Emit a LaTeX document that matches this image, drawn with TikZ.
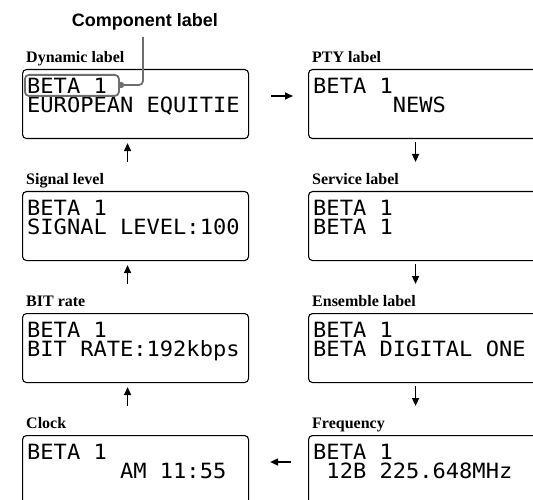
\documentclass[tikz,border=0pt]{standalone}
\usepackage{fontspec}
\setmainfont{Liberation Serif}
\newfontfamily\lcdfont[FakeStretch=1.05]{DejaVu Sans Mono}
\newfontfamily\calloutfont{Liberation Sans}
\usetikzlibrary{arrows.meta}

\definecolor{leadgray}{HTML}{6E6E6E}

\tikzset{
  display/.style={draw, line width=1.1pt, rounded corners=4pt, anchor=north west,
    minimum width=226pt, minimum height=69pt, inner sep=0pt},
  lcd/.style={anchor=base west, inner sep=0pt, text height=15pt, text depth=0pt,
    font=\lcdfont\fontsize{21}{21}\selectfont},
  mode/.style={anchor=base west, inner sep=0pt, font=\bfseries\fontsize{16}{18}\selectfont},
  flow/.style={-{Triangle[length=8pt,width=7pt]}, line width=1.6pt},
  leader/.style={leadgray, line width=1.8pt, rounded corners=4pt},
}

\begin{document}
\begin{tikzpicture}[x=1pt, y=1pt]

    \useasboundingbox (0,0) rectangle (533,-500);

    % Displays, left column
    \node[display] (dyn) at (22,-69) {};
    \node[display] (sig) at (22,-191) {};
    \node[display] (bit) at (22,-313) {};
    \node[display] (clk) at (22,-435) {};

    % Displays, right column (run off the page)
    \node[display, minimum width=234pt] (pty) at (308,-69) {};
    \node[display, minimum width=234pt] (srv) at (308,-191) {};
    \node[display, minimum width=234pt] (ens) at (308,-313) {};
    \node[display, minimum width=234pt] (frq) at (308,-435) {};

    % Mode names
    \node[mode] (dyn-lbl) at ([xshift=4,yshift=6.5]dyn.north west) {Dynamic label};
    \node[mode] (sig-lbl) at ([xshift=4,yshift=6.5]sig.north west) {Signal level};
    \node[mode] (bit-lbl) at ([xshift=4,yshift=6.5]bit.north west) {BIT rate};
    \node[mode] (clk-lbl) at ([xshift=4,yshift=6.5]clk.north west) {Clock};
    \node[mode] (pty-lbl) at ([xshift=4,yshift=6.5]pty.north west) {PTY label};
    \node[mode] (srv-lbl) at ([xshift=4,yshift=6.5]srv.north west) {Service label};
    \node[mode] (ens-lbl) at ([xshift=4,yshift=6.5]ens.north west) {Ensemble label};
    \node[mode] (frq-lbl) at ([xshift=4,yshift=6.5]frq.north west) {Frequency};

    % Display text
    \node[lcd] (dyn-a) at ([xshift=5,yshift=-24.5]dyn.north west) {BETA 1};
    \node[lcd] (dyn-b) at ([xshift=5,yshift=-43.5]dyn.north west) {EUROPEAN EQUITIE};
    \node[lcd] (sig-a) at ([xshift=5,yshift=-24.5]sig.north west) {BETA 1};
    \node[lcd] (sig-b) at ([xshift=5,yshift=-43.5]sig.north west) {SIGNAL LEVEL:100};
    \node[lcd] (bit-a) at ([xshift=5,yshift=-24.5]bit.north west) {BETA 1};
    \node[lcd] (bit-b) at ([xshift=5,yshift=-43.5]bit.north west) {BIT RATE:192kbps};
    \node[lcd] (clk-a) at ([xshift=5,yshift=-24.5]clk.north west) {BETA 1};
    \node[lcd] (clk-b) at ([xshift=5,yshift=-43.5]clk.north west) {\phantom{MMMMMMM}AM 11:55};
    \node[lcd] (pty-a) at ([xshift=5,yshift=-24.5]pty.north west) {BETA 1};
    \node[lcd] (pty-b) at ([xshift=5,yshift=-43.5]pty.north west) {\phantom{MMMMMM}NEWS};
    \node[lcd] (srv-a) at ([xshift=5,yshift=-24.5]srv.north west) {BETA 1};
    \node[lcd] (srv-b) at ([xshift=5,yshift=-43.5]srv.north west) {BETA 1};
    \node[lcd] (ens-a) at ([xshift=5,yshift=-24.5]ens.north west) {BETA 1};
    \node[lcd] (ens-b) at ([xshift=5,yshift=-43.5]ens.north west) {BETA DIGITAL ONE};
    \node[lcd] (frq-a) at ([xshift=5,yshift=-24.5]frq.north west) {BETA 1};
    \node[lcd] (frq-b) at ([xshift=5,yshift=-43.5]frq.north west) {\phantom{M}12B 225.648MHz};

    % Order of the modes
    \draw[flow] ([xshift=22,yshift=-27]dyn.north east) -- ([xshift=-15,yshift=-27]pty.north west);
    \draw[flow] ([xshift=-10,yshift=-3]pty.south) -- ([xshift=-10,yshift=29]srv.north);
    \draw[flow] ([xshift=-10,yshift=-3]srv.south) -- ([xshift=-10,yshift=29]ens.north);
    \draw[flow] ([xshift=-10,yshift=-3]ens.south) -- ([xshift=-10,yshift=29]frq.north);
    \draw[flow] ([xshift=-17,yshift=-27]frq.north west) -- ([xshift=21,yshift=-27]clk.north east);
    \draw[flow] ([xshift=-8,yshift=29]clk.north) -- ([xshift=-8,yshift=-4]bit.south);
    \draw[flow] ([xshift=-8,yshift=29]bit.north) -- ([xshift=-8,yshift=-4]sig.south);
    \draw[flow] ([xshift=-8,yshift=29]sig.north) -- ([xshift=-8,yshift=-4]dyn.south);

    % Component label callout
    \node[font=\calloutfont\bfseries\fontsize{18}{20}\selectfont, anchor=base, inner sep=0pt]
      (comp-lbl) at (145,-27) {Component label};
    \node[draw=leadgray, line width=1.8pt, rounded corners=4pt, anchor=north west,
      minimum width=94pt, minimum height=21pt, inner sep=0pt] (comp-box) at (24,-74) {};
    \fill[leadgray] (121,-85) circle[radius=3.2pt];
    \coordinate (comp-dot) at (121,-85);
    \draw[leader] (comp-dot) -| ([xshift=-2,yshift=-6]comp-lbl.south);

\end{tikzpicture}
\end{document}
